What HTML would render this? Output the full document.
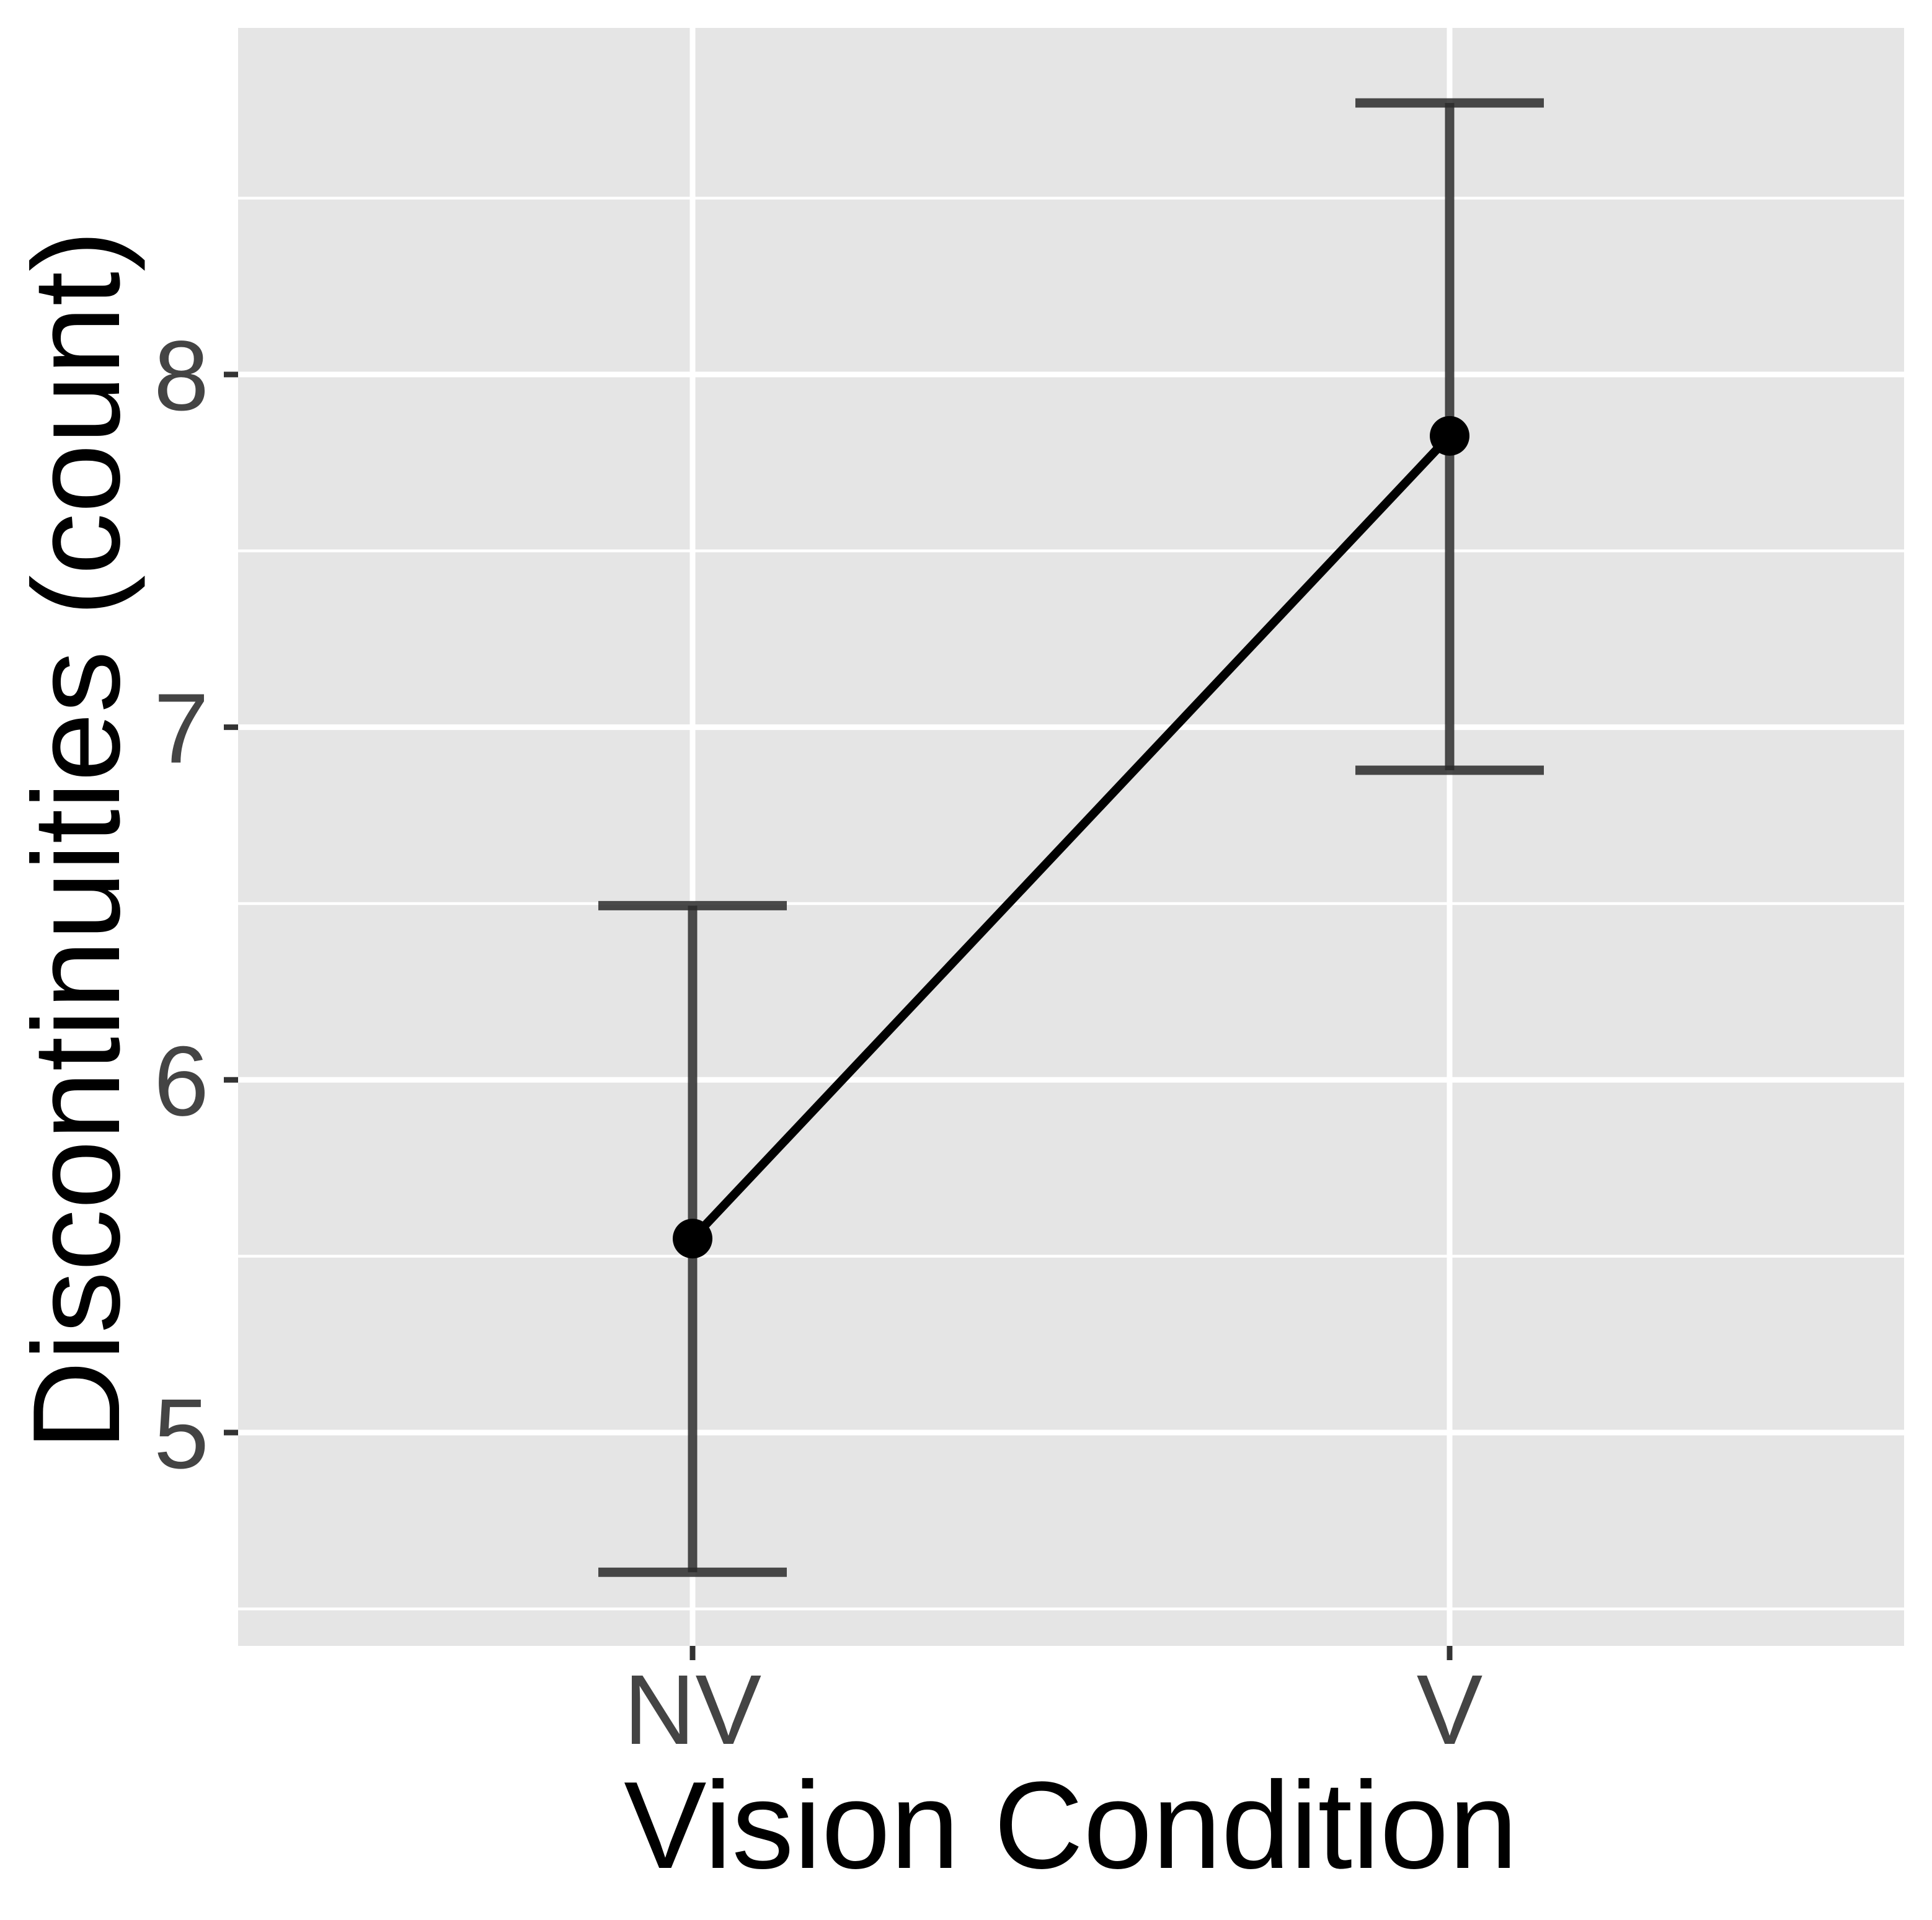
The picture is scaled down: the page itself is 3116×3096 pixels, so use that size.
<!DOCTYPE html>
<html><head><style>body{margin:0;background:#fff}svg{display:block}</style></head>
<body>
<svg id="chart" width="3116" height="3096" xmlns="http://www.w3.org/2000/svg" font-family="Liberation Sans, sans-serif">
<rect x="384" y="45" width="2687" height="2609" fill="#e5e5e5"/>
<g id="grid"></g>
<g id="marks"></g>
<g id="axes"></g>
<text x="1727" y="3012" font-size="200" text-anchor="middle">Vision Condition</text>
<text transform="translate(192,1355) rotate(-90)" font-size="200" text-anchor="middle">Discontinuities (count)</text>
</svg>
<script>
const categories=["NV","V"];
const means=[5.55,7.826];
const upper=[6.494,8.77];
const lower=[4.604,6.878];
const yTicks=[5,6,7,8];
const NS="http://www.w3.org/2000/svg";
const x=i=>1117+i*1221;
const y=v=>2310-(v-5)*568.7;
function mk(p,t,a){const e=document.createElementNS(NS,t);for(const k in a)e.setAttribute(k,a[k]);p.appendChild(e);return e;}
const grid=document.getElementById('grid'),marks=document.getElementById('marks'),axes=document.getElementById('axes');
for(let v=4.5;v<=8.51;v+=0.5){const yy=y(v);if(yy<45||yy>2654)continue;
 const l=mk(grid,'line',{x1:384,x2:3071,y1:yy,y2:yy,stroke:'#fff','stroke-width':Number.isInteger(v)?9:4.5});
 
 }
categories.forEach((c,i)=>{const l=mk(grid,'line',{x1:x(i),x2:x(i),y1:45,y2:2654,stroke:'#fff','stroke-width':9});
 
 
 const t=mk(axes,'line',{x1:x(i),x2:x(i),y1:2654,y2:2677,stroke:'#333','stroke-width':9});
 
 
 const tx=mk(axes,'text',{x:x(i),y:2812,'font-size':160,fill:'#444','text-anchor':'middle'});tx.textContent=c;
 
 });
yTicks.forEach(v=>{const t=mk(axes,'line',{x1:361,x2:384,y1:y(v),y2:y(v),stroke:'#333','stroke-width':9});
 
 
 const tx=mk(axes,'text',{x:337,y:y(v)+57,'font-size':160,fill:'#444','text-anchor':'end'});tx.textContent=v;
 
 });
categories.forEach((c,i)=>{const g=mk(marks,'g',{stroke:'#2a2a2a','stroke-width':15,'stroke-opacity':0.85});
 
 
 mk(g,'line',{x1:x(i),x2:x(i),y1:y(upper[i]),y2:y(lower[i])});
 mk(g,'line',{x1:x(i)-152,x2:x(i)+152,y1:y(upper[i]),y2:y(upper[i])});
 mk(g,'line',{x1:x(i)-152,x2:x(i)+152,y1:y(lower[i]),y2:y(lower[i])});});
const ln=mk(marks,'polyline',{points:means.map((m,i)=>x(i)+','+y(m)).join(' '),fill:'none',stroke:'#000','stroke-width':14});


means.forEach((m,i)=>{const p=mk(marks,'circle',{cx:x(i),cy:y(m),r:32,fill:'#000'});
 
 });
</script>
</body></html>
